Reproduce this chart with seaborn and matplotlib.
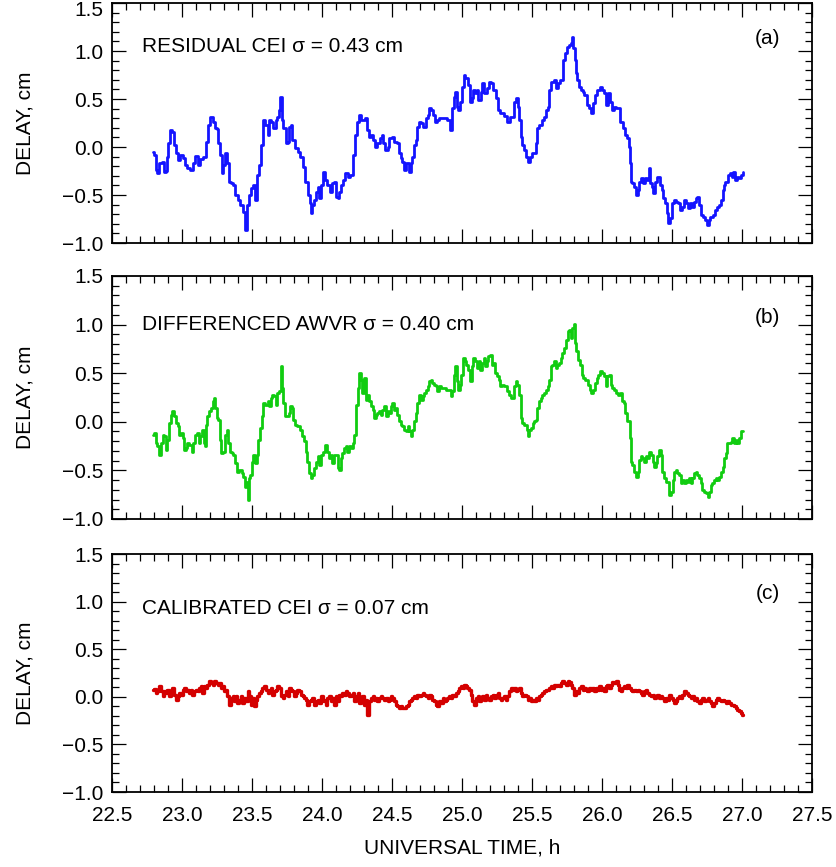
import matplotlib
matplotlib.use("Agg")
import matplotlib.pyplot as plt
import matplotlib.transforms as mtransforms
import pandas as pd
import seaborn as sns
from matplotlib.ticker import MultipleLocator

# ---------------------------------------------------------------- data
time_a = [
    22.795, 22.807, 22.819, 22.831, 22.843, 22.867, 22.879, 22.890, 22.898, 22.907,
    22.921, 22.938, 22.950, 22.967, 22.979, 22.998, 23.017, 23.026, 23.045, 23.069,
    23.088, 23.105, 23.117, 23.136, 23.160, 23.176, 23.193, 23.212, 23.229, 23.240,
    23.255, 23.264, 23.279, 23.288, 23.302, 23.319, 23.331, 23.343, 23.360, 23.374,
    23.390, 23.407, 23.426, 23.445, 23.457, 23.469, 23.486, 23.498, 23.517, 23.529,
    23.545, 23.557, 23.574, 23.586, 23.605, 23.617, 23.629, 23.645, 23.660, 23.676,
    23.688, 23.700, 23.707, 23.717, 23.731, 23.748, 23.760, 23.771, 23.783, 23.795,
    23.819, 23.836, 23.855, 23.874, 23.890, 23.907, 23.919, 23.926, 23.938, 23.950,
    23.962, 23.974, 23.986, 23.998, 24.014, 24.026, 24.045, 24.064, 24.076, 24.093,
    24.105, 24.117, 24.129, 24.140, 24.157, 24.176, 24.193, 24.212, 24.231, 24.243,
    24.260, 24.271, 24.283, 24.300, 24.319, 24.331, 24.343, 24.360, 24.374, 24.386,
    24.402, 24.421, 24.433, 24.445, 24.462, 24.474, 24.490, 24.509, 24.526, 24.545,
    24.557, 24.569, 24.581, 24.593, 24.605, 24.617, 24.629, 24.640, 24.652, 24.664,
    24.676, 24.688, 24.700, 24.717, 24.731, 24.748, 24.760, 24.771, 24.788, 24.802,
    24.814, 24.826, 24.843, 24.862, 24.879, 24.902,
    24.922, 24.933, 24.950, 24.957, 24.967, 24.981, 24.993, 25.005, 25.017, 25.033,
    25.048, 25.062, 25.074, 25.086, 25.100, 25.110, 25.124, 25.141, 25.152, 25.169,
    25.183, 25.200, 25.217, 25.231, 25.248, 25.260, 25.279, 25.295, 25.312, 25.331,
    25.348, 25.362, 25.379, 25.391, 25.403, 25.414, 25.422, 25.433, 25.450, 25.467,
    25.479, 25.493, 25.510, 25.526, 25.533, 25.545, 25.562, 25.576, 25.593, 25.605,
    25.617, 25.629, 25.648, 25.664, 25.681, 25.695, 25.712, 25.729, 25.743, 25.755,
    25.771, 25.783, 25.791, 25.800, 25.810, 25.819, 25.831, 25.843, 25.855, 25.867,
    25.881, 25.898, 25.914, 25.926, 25.943, 25.957, 25.974, 25.993, 26.010, 26.026,
    26.038, 26.053, 26.064, 26.076, 26.093, 26.105, 26.121, 26.141, 26.157, 26.171,
    26.188, 26.200, 26.207, 26.212, 26.224, 26.236, 26.248, 26.260, 26.271, 26.288,
    26.300, 26.314, 26.329, 26.338, 26.348, 26.362, 26.374, 26.386, 26.398, 26.410,
    26.421, 26.433, 26.443, 26.455, 26.467, 26.481, 26.493, 26.505, 26.521, 26.538,
    26.552, 26.564, 26.576, 26.593, 26.610, 26.624, 26.636, 26.652, 26.664, 26.676,
    26.688, 26.700, 26.712, 26.729, 26.743, 26.755, 26.767, 26.783, 26.800, 26.814,
    26.831, 26.843, 26.855, 26.867, 26.874, 26.890, 26.907, 26.921, 26.933, 26.945,
    26.957, 26.974, 26.986, 26.998, 27.010,
]
delay_a = [
    -0.048, -0.083, -0.239, -0.274, -0.170, -0.160, -0.257, -0.250, -0.101, 0.038,
    0.177, 0.160, 0.021, -0.066, -0.135, -0.083, -0.118, -0.187, -0.215, -0.239,
    -0.170, -0.090, -0.187, -0.125, -0.101, 0.056, 0.229, 0.316, 0.264, 0.194,
    0.188, 0.038, -0.083, -0.274, -0.187, -0.066, -0.170, -0.361, -0.378, -0.396,
    -0.500, -0.552, -0.604, -0.673, -0.864, -0.604, -0.500, -0.430, -0.396, -0.552,
    -0.292, -0.187, 0.021, 0.281, 0.229, 0.125, 0.281, 0.264, 0.194, 0.281,
    0.316, 0.385, 0.524, 0.281, 0.194, 0.038, 0.056, 0.212, 0.229, 0.073,
    -0.014, -0.048, -0.101, -0.205, -0.361, -0.500, -0.587, -0.691, -0.604, -0.552,
    -0.465, -0.413, -0.535, -0.396, -0.257, -0.344, -0.396, -0.465, -0.378, -0.361,
    -0.517, -0.535, -0.465, -0.396, -0.344, -0.274, -0.309, -0.292, -0.083, 0.125,
    0.264, 0.333, 0.281, 0.281, 0.299, 0.177, 0.108, 0.125, 0.073, 0.004,
    0.038, 0.090, 0.125, 0.038, -0.031, 0.004, 0.090, 0.108, 0.056, 0.038,
    -0.066, -0.118, -0.153, -0.239, -0.170, -0.170, -0.257, -0.170, -0.101, 0.021,
    0.073, 0.212, 0.264, 0.247, 0.212, 0.299, 0.333, 0.403, 0.385, 0.333,
    0.264, 0.281, 0.299, 0.299, 0.306, 0.281,
    0.177, 0.403, 0.525, 0.577, 0.420, 0.386, 0.472, 0.629, 0.750, 0.715,
    0.646, 0.472, 0.507, 0.594, 0.559, 0.594, 0.490, 0.577, 0.663, 0.559,
    0.611, 0.681, 0.663, 0.594, 0.507, 0.386, 0.351, 0.351, 0.323, 0.264,
    0.309, 0.316, 0.472, 0.507, 0.420, 0.281, 0.108, 0.021, -0.031, -0.100,
    -0.153, -0.100, -0.066, -0.066, 0.038, 0.195, 0.229, 0.281, 0.316, 0.386,
    0.420, 0.594, 0.681, 0.698, 0.611, 0.663, 0.698, 0.906, 0.976, 1.045,
    1.063, 1.080, 1.143, 1.028, 0.906, 0.768, 0.698, 0.629, 0.594, 0.577,
    0.542, 0.438, 0.403, 0.351, 0.455, 0.542, 0.594, 0.629, 0.594, 0.559,
    0.438, 0.559, 0.472, 0.386, 0.420, 0.403, 0.403, 0.264, 0.195, 0.125,
    0.090, 0.004, -0.170, -0.361, -0.378, -0.413, -0.500, -0.448, -0.361, -0.326,
    -0.378, -0.326, -0.344, -0.222, -0.378, -0.413, -0.482, -0.361, -0.309, -0.309,
    -0.396, -0.448, -0.535, -0.587, -0.691, -0.795, -0.743, -0.587, -0.552, -0.569,
    -0.580, -0.656, -0.621, -0.552, -0.587, -0.639, -0.587, -0.621, -0.569, -0.535,
    -0.517, -0.604, -0.708, -0.725, -0.760, -0.812, -0.760, -0.725, -0.708, -0.656,
    -0.621, -0.604, -0.552, -0.448, -0.396, -0.361, -0.291, -0.274, -0.309, -0.257,
    -0.344, -0.309, -0.326, -0.291, -0.257,
]

time_b = [
    22.795, 22.807, 22.819, 22.831, 22.843, 22.855, 22.867, 22.879, 22.890, 22.902,
    22.914, 22.926, 22.938, 22.950, 22.962, 22.974, 22.986, 22.998, 23.010, 23.021,
    23.033, 23.045, 23.062, 23.074, 23.088, 23.100, 23.112, 23.124, 23.136, 23.148,
    23.160, 23.171, 23.176, 23.188, 23.200, 23.212, 23.224, 23.231, 23.240, 23.255,
    23.264, 23.276, 23.288, 23.300, 23.312, 23.324, 23.336, 23.350, 23.360, 23.374,
    23.390, 23.402, 23.419, 23.433, 23.445, 23.455, 23.462, 23.474, 23.483, 23.493,
    23.502, 23.517, 23.529, 23.540, 23.552, 23.564, 23.576, 23.588, 23.605, 23.617,
    23.629, 23.640, 23.652, 23.664, 23.676, 23.688, 23.700, 23.712, 23.719, 23.731,
    23.743, 23.755, 23.767, 23.779, 23.790, 23.802, 23.814, 23.831, 23.850, 23.867,
    23.879, 23.890, 23.902, 23.914, 23.926, 23.938, 23.950, 23.962, 23.974, 23.986,
    23.998, 24.014, 24.029, 24.045, 24.057, 24.069, 24.081, 24.093, 24.105, 24.117,
    24.129, 24.140, 24.152, 24.164, 24.176, 24.188, 24.200, 24.212, 24.224, 24.236,
    24.248, 24.260, 24.271, 24.283, 24.295, 24.307, 24.319, 24.331, 24.343, 24.355,
    24.367, 24.379, 24.390, 24.402, 24.414, 24.426, 24.438, 24.450, 24.462, 24.474,
    24.486, 24.498, 24.509, 24.521, 24.533, 24.545, 24.557, 24.569, 24.581, 24.593,
    24.605, 24.617, 24.629, 24.640, 24.652, 24.664, 24.676, 24.688, 24.700, 24.712,
    24.724, 24.736, 24.748, 24.760, 24.771, 24.783, 24.795, 24.807, 24.819, 24.831,
    24.843, 24.855, 24.867, 24.879, 24.890, 24.902,
    24.910, 24.926, 24.938, 24.950, 24.957, 24.967, 24.979, 24.991, 25.002, 25.014,
    25.026, 25.038, 25.052, 25.064, 25.076, 25.088, 25.100, 25.112, 25.124, 25.136,
    25.148, 25.160, 25.171, 25.183, 25.195, 25.207, 25.219, 25.231, 25.243, 25.255,
    25.267, 25.279, 25.295, 25.312, 25.326, 25.343, 25.355, 25.367, 25.379, 25.391,
    25.402, 25.414, 25.426, 25.438, 25.455, 25.469, 25.476, 25.486, 25.498, 25.510,
    25.521, 25.533, 25.545, 25.557, 25.569, 25.581, 25.593, 25.605, 25.617, 25.629,
    25.641, 25.652, 25.664, 25.676, 25.688, 25.700, 25.712, 25.724, 25.736, 25.748,
    25.760, 25.771, 25.783, 25.795, 25.802, 25.812, 25.824, 25.838, 25.850, 25.862,
    25.874, 25.890, 25.907, 25.919, 25.931, 25.943, 25.955, 25.967, 25.981, 25.993,
    26.010, 26.024, 26.033, 26.045, 26.057, 26.069, 26.081, 26.093, 26.105, 26.121,
    26.136, 26.148, 26.160, 26.171, 26.183, 26.195, 26.205, 26.212, 26.224, 26.236,
    26.248, 26.260, 26.271, 26.283, 26.295, 26.307, 26.319, 26.331, 26.343, 26.355,
    26.367, 26.379, 26.390, 26.402, 26.414, 26.426, 26.438, 26.450, 26.462, 26.474,
    26.486, 26.498, 26.510, 26.521, 26.533, 26.545, 26.557, 26.569, 26.581, 26.593,
    26.605, 26.617, 26.629, 26.640, 26.652, 26.664, 26.676, 26.688, 26.700, 26.712,
    26.724, 26.736, 26.748, 26.760, 26.771, 26.783, 26.795, 26.807, 26.819, 26.831,
    26.843, 26.855, 26.867, 26.879, 26.890, 26.902, 26.914, 26.926, 26.938, 26.950,
    26.962, 26.974, 26.986, 26.998, 27.010,
]
delay_b = [
    -0.134, -0.117, -0.220, -0.254, -0.340, -0.220, -0.134, -0.151, -0.288, -0.185,
    -0.013, 0.072, 0.107, 0.055, -0.013, -0.048, -0.134, -0.117, -0.168, -0.288,
    -0.271, -0.220, -0.237, -0.306, -0.220, -0.134, -0.117, -0.220, -0.151, -0.082,
    -0.220, -0.254, -0.031, 0.055, 0.107, 0.141, 0.210, 0.244, 0.141, 0.038,
    0.021, -0.185, -0.323, -0.306, -0.134, -0.082, -0.220, -0.306, -0.323, -0.340,
    -0.426, -0.512, -0.495, -0.529, -0.563, -0.666, -0.615, -0.804, -0.580, -0.546,
    -0.409, -0.340, -0.426, -0.340, -0.185, -0.065, 0.055, 0.193, 0.175, 0.210,
    0.158, 0.244, 0.279, 0.261, 0.175, 0.296, 0.313, 0.571, 0.347, 0.193,
    0.055, 0.055, 0.090, 0.158, 0.141, 0.021, -0.031, -0.048, -0.082, -0.151,
    -0.202, -0.306, -0.409, -0.529, -0.580, -0.546, -0.477, -0.409, -0.357, -0.443,
    -0.340, -0.306, -0.237, -0.306, -0.374, -0.340, -0.426, -0.340, -0.340, -0.477,
    -0.495, -0.374, -0.323, -0.271, -0.254, -0.306, -0.254, -0.271, -0.220, -0.134,
    0.175, 0.347, 0.502, 0.433, 0.296, 0.450, 0.227, 0.279, 0.210, 0.158,
    0.124, 0.038, 0.072, 0.090, 0.107, 0.072, 0.124, 0.158, 0.055, 0.107,
    0.090, 0.158, 0.193, 0.124, 0.141, 0.072, 0.004, -0.031, -0.048, -0.082,
    -0.099, -0.048, -0.099, -0.151, -0.082, 0.004, 0.090, 0.193, 0.279, 0.227,
    0.261, 0.296, 0.330, 0.364, 0.416, 0.433, 0.399, 0.382, 0.364, 0.313,
    0.364, 0.347, 0.347, 0.347, 0.330, 0.330,
    0.330, 0.261, 0.313, 0.484, 0.570, 0.416, 0.330, 0.381, 0.484, 0.656,
    0.622, 0.588, 0.536, 0.416, 0.570, 0.656, 0.622, 0.553, 0.622, 0.536,
    0.605, 0.656, 0.570, 0.622, 0.673, 0.691, 0.588, 0.605, 0.502, 0.467,
    0.433, 0.364, 0.381, 0.364, 0.313, 0.278, 0.244, 0.244, 0.364, 0.416,
    0.381, 0.278, 0.038, -0.014, -0.031, -0.083, -0.151, -0.083, -0.065, -0.014,
    0.003, 0.021, 0.141, 0.210, 0.244, 0.278, 0.295, 0.330, 0.364, 0.433,
    0.570, 0.588, 0.622, 0.553, 0.588, 0.605, 0.656, 0.708, 0.759, 0.845,
    0.931, 0.948, 0.862, 0.966, 1.007, 0.811, 0.725, 0.639, 0.588, 0.484,
    0.450, 0.433, 0.381, 0.330, 0.295, 0.330, 0.399, 0.450, 0.484, 0.519,
    0.502, 0.467, 0.364, 0.467, 0.484, 0.381, 0.347, 0.330, 0.295, 0.278,
    0.295, 0.210, 0.192, 0.089, 0.003, 0.003, -0.168, -0.409, -0.443, -0.512,
    -0.564, -0.512, -0.392, -0.357, -0.375, -0.409, -0.357, -0.375, -0.306, -0.340,
    -0.409, -0.461, -0.426, -0.357, -0.289, -0.340, -0.512, -0.581, -0.615, -0.615,
    -0.753, -0.718, -0.598, -0.512, -0.495, -0.529, -0.546, -0.632, -0.598, -0.632,
    -0.598, -0.615, -0.581, -0.632, -0.581, -0.529, -0.512, -0.546, -0.581, -0.632,
    -0.701, -0.718, -0.735, -0.770, -0.718, -0.650, -0.632, -0.598, -0.581, -0.598,
    -0.564, -0.512, -0.461, -0.375, -0.323, -0.220, -0.220, -0.203, -0.168, -0.220,
    -0.186, -0.220, -0.168, -0.100, -0.100,
]

time_c = [
    22.795, 22.807, 22.819, 22.831, 22.843, 22.855, 22.867, 22.879, 22.890, 22.902,
    22.914, 22.926, 22.938, 22.950, 22.962, 22.974, 22.986, 22.998, 23.010, 23.021,
    23.033, 23.045, 23.057, 23.069, 23.081, 23.093, 23.105, 23.117, 23.129, 23.140,
    23.152, 23.164, 23.176, 23.188, 23.200, 23.212, 23.224, 23.236, 23.248, 23.260,
    23.271, 23.283, 23.295, 23.307, 23.319, 23.331, 23.343, 23.355, 23.367, 23.379,
    23.390, 23.402, 23.414, 23.426, 23.438, 23.450, 23.462, 23.474, 23.486, 23.498,
    23.509, 23.521, 23.533, 23.545, 23.557, 23.569, 23.581, 23.593, 23.605, 23.617,
    23.629, 23.640, 23.652, 23.664, 23.676, 23.688, 23.700, 23.712, 23.724, 23.736,
    23.748, 23.760, 23.771, 23.783, 23.795, 23.807, 23.819, 23.831, 23.843, 23.855,
    23.867, 23.879, 23.890, 23.902, 23.914, 23.926, 23.938, 23.950, 23.962, 23.974,
    23.986, 23.998, 24.010, 24.021, 24.033, 24.045, 24.057, 24.069, 24.081, 24.093,
    24.105, 24.117, 24.129, 24.140, 24.152, 24.164, 24.176, 24.188, 24.200, 24.212,
    24.224, 24.236, 24.248, 24.260, 24.271, 24.283, 24.295, 24.307, 24.319, 24.331,
    24.343, 24.355, 24.367, 24.379, 24.390, 24.402, 24.414, 24.426, 24.438, 24.450,
    24.462, 24.474, 24.486, 24.498, 24.509, 24.521, 24.533, 24.545, 24.557, 24.569,
    24.581, 24.593, 24.605, 24.617, 24.629, 24.640, 24.652, 24.664, 24.676, 24.688,
    24.700, 24.712, 24.724, 24.736, 24.748, 24.760, 24.771, 24.783, 24.795, 24.807,
    24.819, 24.831, 24.843, 24.855, 24.867, 24.879, 24.890, 24.902,
    24.914, 24.926, 24.938, 24.950, 24.962, 24.974, 24.986, 24.998, 25.010, 25.021,
    25.033, 25.045, 25.057, 25.069, 25.081, 25.093, 25.105, 25.117, 25.129, 25.141,
    25.152, 25.164, 25.176, 25.188, 25.200, 25.212, 25.224, 25.236, 25.248, 25.260,
    25.271, 25.283, 25.295, 25.307, 25.319, 25.331, 25.343, 25.355, 25.367, 25.379,
    25.391, 25.402, 25.414, 25.426, 25.438, 25.450, 25.462, 25.474, 25.486, 25.498,
    25.510, 25.521, 25.533, 25.545, 25.557, 25.569, 25.581, 25.593, 25.605, 25.617,
    25.629, 25.641, 25.652, 25.664, 25.676, 25.688, 25.700, 25.712, 25.724, 25.736,
    25.748, 25.760, 25.771, 25.783, 25.795, 25.807, 25.819, 25.831, 25.843, 25.855,
    25.867, 25.879, 25.890, 25.902, 25.914, 25.926, 25.938, 25.950, 25.962, 25.974,
    25.986, 25.998, 26.010, 26.021, 26.033, 26.045, 26.057, 26.069, 26.081, 26.093,
    26.105, 26.117, 26.129, 26.140, 26.152, 26.164, 26.176, 26.188, 26.200, 26.212,
    26.224, 26.236, 26.248, 26.260, 26.271, 26.283, 26.295, 26.307, 26.319, 26.331,
    26.343, 26.355, 26.367, 26.379, 26.390, 26.402, 26.414, 26.426, 26.438, 26.450,
    26.462, 26.474, 26.486, 26.498, 26.510, 26.521, 26.533, 26.545, 26.557, 26.569,
    26.581, 26.593, 26.605, 26.617, 26.629, 26.640, 26.652, 26.664, 26.676, 26.688,
    26.700, 26.712, 26.724, 26.736, 26.748, 26.760, 26.771, 26.783, 26.795, 26.807,
    26.819, 26.831, 26.843, 26.855, 26.867, 26.879, 26.890, 26.902, 26.914, 26.926,
    26.938, 26.950, 26.962, 26.974, 26.986, 26.998, 27.005,
]
delay_c = [
    0.074, 0.084, 0.039, 0.063, 0.109, 0.056, 0.004, 0.056, 0.039, 0.074,
    0.004, 0.063, 0.091, 0.021, -0.031, 0.004, 0.039, 0.021, 0.074, 0.091,
    0.056, 0.074, 0.039, 0.074, 0.021, 0.056, 0.074, 0.056, 0.091, 0.109,
    0.039, 0.109, 0.091, 0.126, 0.161, 0.144, 0.126, 0.168, 0.144, 0.126,
    0.144, 0.091, 0.109, 0.056, 0.074, 0.004, -0.084, -0.014, 0.004, -0.049,
    0.004, -0.066, -0.031, 0.004, -0.066, -0.014, -0.049, 0.056, 0.004, -0.084,
    -0.014, -0.101, -0.031, 0.004, 0.039, 0.056, 0.091, 0.109, 0.074, 0.039,
    0.056, 0.091, 0.021, 0.056, 0.074, 0.109, 0.091, 0.004, -0.014, 0.021,
    0.056, 0.004, 0.091, 0.074, 0.056, 0.004, 0.039, 0.074, 0.056, 0.021,
    0.004, -0.014, -0.031, -0.084, -0.049, -0.031, -0.014, -0.084, -0.049, -0.031,
    -0.066, 0.004, -0.031, -0.049, -0.084, -0.014, 0.004, -0.049, -0.014, -0.084,
    0.004, -0.049, 0.021, 0.004, 0.039, 0.021, 0.056, 0.039, 0.004, 0.021,
    0.039, -0.049, 0.004, 0.039, -0.066, -0.014, 0.004, -0.084, -0.031, -0.188,
    -0.049, -0.014, 0.004, -0.031, -0.014, -0.049, -0.014, 0.004, -0.014, -0.031,
    -0.014, -0.049, -0.031, 0.004, -0.014, -0.049, -0.084, -0.101, -0.119, -0.101,
    -0.119, -0.119, -0.101, -0.084, -0.049, -0.031, -0.014, 0.004, -0.014, 0.021,
    0.004, 0.021, 0.039, 0.021, 0.004, -0.014, 0.021, 0.004, -0.031, -0.049,
    -0.084, -0.101, -0.049, -0.066, -0.014, -0.049, -0.031, -0.014,
    0.004, -0.014, 0.021, 0.004, 0.039, 0.056, 0.091, 0.109, 0.091, 0.126,
    0.109, 0.091, 0.074, 0.021, -0.049, -0.084, -0.014, 0.004, -0.049, -0.014,
    0.004, -0.031, 0.021, -0.014, -0.031, 0.004, 0.021, -0.014, 0.021, 0.039,
    -0.014, -0.031, -0.014, 0.004, -0.031, 0.004, 0.056, 0.091, 0.074, 0.091,
    0.056, 0.074, 0.091, 0.039, 0.004, 0.021, 0.004, -0.031, -0.014, -0.049,
    -0.031, -0.049, -0.014, -0.031, 0.004, 0.021, 0.039, 0.056, 0.074, 0.074,
    0.091, 0.109, 0.091, 0.126, 0.109, 0.126, 0.109, 0.144, 0.161, 0.144,
    0.126, 0.161, 0.154, 0.126, 0.091, 0.021, 0.056, 0.039, 0.091, 0.109,
    0.074, 0.091, 0.074, 0.056, 0.091, 0.074, 0.091, 0.056, 0.091, 0.074,
    0.109, 0.074, 0.091, 0.056, 0.109, 0.126, 0.091, 0.126, 0.154, 0.144,
    0.161, 0.126, 0.074, 0.056, 0.091, 0.109, 0.091, 0.126, 0.091, 0.074,
    0.056, 0.074, 0.056, 0.074, 0.056, 0.039, 0.021, 0.056, 0.074, 0.039,
    0.021, 0.004, 0.021, -0.014, 0.004, 0.021, -0.014, 0.004, -0.014, -0.049,
    -0.014, -0.031, 0.021, -0.014, -0.031, -0.066, -0.049, -0.014, 0.004, -0.014,
    0.021, 0.056, 0.039, 0.021, 0.004, -0.014, 0.004, -0.031, -0.014, -0.049,
    -0.066, -0.031, -0.014, -0.049, -0.031, -0.014, -0.049, -0.066, -0.101, -0.066,
    -0.031, -0.014, -0.031, -0.049, -0.031, -0.049, -0.066, -0.049, -0.066, -0.084,
    -0.084, -0.101, -0.119, -0.136, -0.154, -0.171, -0.188,
]

panel_notes = ["RESIDUAL CEI \u03c3 = 0.43 cm",
               "DIFFERENCED AWVR \u03c3 = 0.40 cm",
               "CALIBRATED CEI \u03c3 = 0.07 cm"]
panel_tags = ["(a)", "(b)", "(c)"]
line_colors = ["#1414ff", "#11cc11", "#d40000"]
x_ticks = [22.5, 23.0, 23.5, 24.0, 24.5, 25.0, 25.5, 26.0, 26.5, 27.0, 27.5]
y_ticks = [-1.0, -0.5, 0.0, 0.5, 1.0, 1.5]

# ---------------------------------------------------------------- style
sns.set_theme(style="ticks")
plt.rcParams["font.family"] = ["Liberation Sans", "DejaVu Sans"]
plt.rcParams["axes.unicode_minus"] = True
plt.rcParams["text.color"] = "black"
plt.rcParams["axes.labelcolor"] = "black"
plt.rcParams["xtick.color"] = "black"
plt.rcParams["ytick.color"] = "black"

fig = plt.figure(figsize=(8.37, 8.67), dpi=100)
fig.patch.set_facecolor("white")

# axes rectangles: left, bottom, width, height (figure fraction)
boxes = [
    [0.1338, 0.7197, 0.8363, 0.2768],
    [0.1338, 0.4014, 0.8363, 0.2803],
    [0.1338, 0.0865, 0.8363, 0.2745],
]
note_y = [0.817, 0.802, 0.769]
tag_y = [0.854, 0.831, 0.836]
line_widths = [2.0, 2.0, 2.4]

series = [(time_a, delay_a), (time_b, delay_b), (time_c, delay_c)]

for i, (t, d) in enumerate(series):
    ax = fig.add_axes(boxes[i])
    df = pd.DataFrame({"time": t, "delay": d})
    sns.lineplot(data=df, x="time", y="delay", ax=ax, color=line_colors[i],
                 linewidth=line_widths[i], estimator=None, sort=False,
                 drawstyle="steps-mid")
    ax.set_xlim(22.5, 27.5)
    ax.set_ylim(-1.0, 1.5)
    ax.set_xticks(x_ticks)
    ax.set_yticks(y_ticks)
    ax.set_yticklabels([f"{v:.1f}".replace("-", "\u2212") for v in y_ticks])
    ax.xaxis.set_minor_locator(MultipleLocator(0.1))
    ax.yaxis.set_minor_locator(MultipleLocator(0.1))
    ax.tick_params(which="both", direction="in", top=True, right=True,
                   width=0.9, colors="black")
    ax.tick_params(which="major", length=10)
    ax.tick_params(which="minor", length=5)
    ax.tick_params(axis="x", labelsize=15, pad=10)
    ax.tick_params(axis="y", labelsize=15, pad=6)
    for s in ax.spines.values():
        s.set_linewidth(1.3)
        s.set_color("black")
    ax.set_ylabel("DELAY, cm", fontsize=15, labelpad=20)
    if i < 2:
        ax.set_xlabel("")
        ax.tick_params(axis="x", labelbottom=False)
    else:
        ax.set_xticklabels([f"{v:.1f}" for v in x_ticks])
        ax.set_xlabel("UNIVERSAL TIME, h", fontsize=15, labelpad=10)
    if i == 0:
        # keep the topmost tick label inside the figure
        top_label = ax.get_yticklabels()[-1]
        top_label.set_transform(top_label.get_transform() +
                                mtransforms.ScaledTranslation(0, -4 / 72, fig.dpi_scale_trans))
    ax.text(0.043, note_y[i], panel_notes[i], transform=ax.transAxes,
            fontsize=15, ha="left", va="center")
    ax.text(0.954, tag_y[i], panel_tags[i], transform=ax.transAxes,
            fontsize=15, ha="right", va="center")

fig.savefig("out.png", dpi=100, facecolor="white")
